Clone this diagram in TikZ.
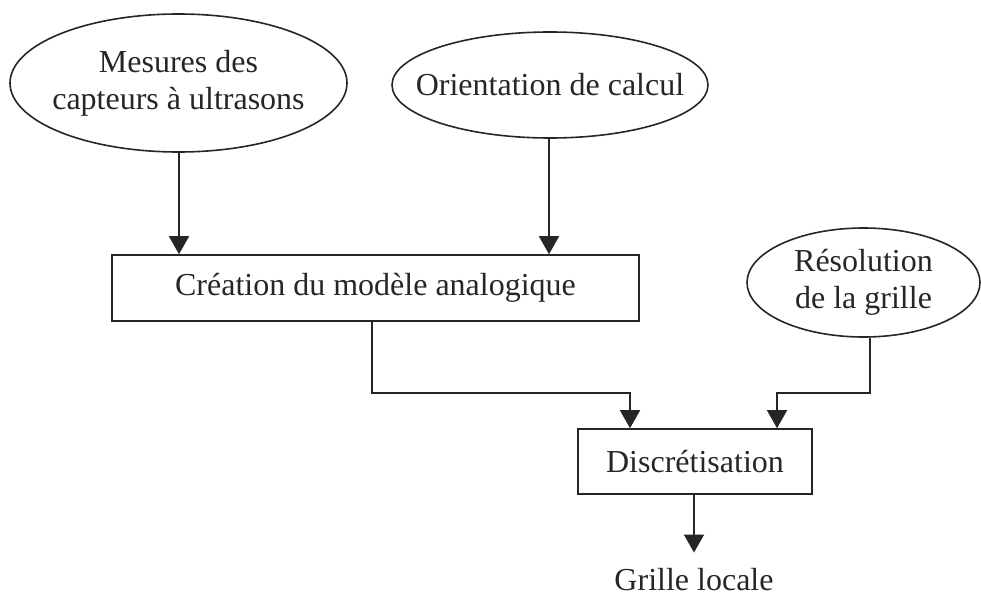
\documentclass[tikz,border=0pt]{standalone}
\usepackage{fontspec}
\setmainfont{Liberation Serif}
\usetikzlibrary{shapes.geometric,arrows.meta}
\definecolor{ink}{HTML}{262626}
\tikzset{
  every node/.style={font=\fontsize{32}{37}\selectfont, text=ink, align=center},
  oval/.style={ellipse, draw=ink, line width=1.6pt, inner sep=-80pt},
  boxnode/.style={rectangle, draw=ink, line width=1.6pt, inner sep=0pt},
  link/.style={draw=ink, line width=1.6pt, -{Triangle[length=18pt,width=20pt]}},
}
\begin{document}
\begin{tikzpicture}[x=1pt,y=-1pt]
\useasboundingbox (0,0) rectangle (981,599);
\node[oval, minimum width=337pt, minimum height=138pt] (e1) at (178.5,83) {Mesures des\\capteurs à ultrasons};
\node[oval, minimum width=316pt, minimum height=106pt] (e2) at (550,85) {Orientation de calcul};
\node[boxnode, minimum width=527pt, minimum height=66pt] (r1) at (375.5,288) {Création du modèle analogique};
\node[oval, minimum width=233pt, minimum height=109pt] (e3) at (863.5,282.5) {Résolution\\de la grille};
\node[boxnode, minimum width=234pt, minimum height=65pt] (r2) at (695,461.5) {Discrétisation};
\node[inner sep=0pt] (out) at (694,580) {Grille locale};
\coordinate (a1) at (372,393);
\coordinate (a2) at (630,393);
\coordinate (b1) at (870,393);
\coordinate (b2) at (777,393);
\draw[link] (e1.south -| 179,0) -- (179,0 |- r1.north);
\draw[link] (e2.south -| 549,0) -- (549,0 |- r1.north);
\draw[link] (a1 |- r1.south) -- (a1) -- (a2) -- (a2 |- r2.north);
\draw[link] (b1 |- e3.south) -- (b1) -- (b2) -- (b2 |- r2.north);
\draw[link, shorten >=16pt] (r2.south -| out.north) -- (out.north);
\end{tikzpicture}
\end{document}
